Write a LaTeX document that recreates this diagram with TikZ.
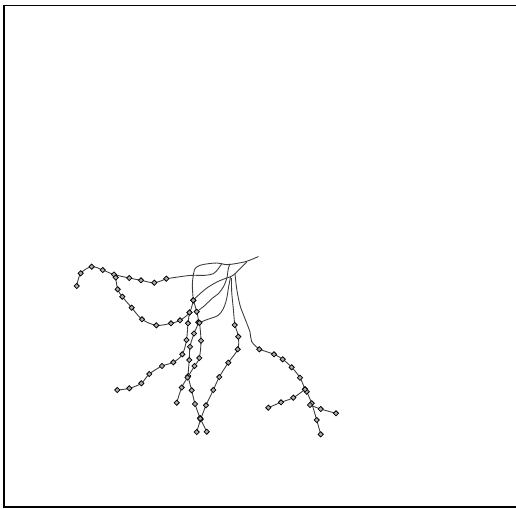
\documentclass[tikz,border=0pt]{standalone}
\usetikzlibrary{plotmarks}
\definecolor{twiggray}{RGB}{60,60,60}
\definecolor{knotfill}{RGB}{175,175,175}
\tikzset{
  frameline/.style={black, line width=0.8pt},
  twig/.style={twiggray, line width=0.5pt, smooth, tension=0.55},
  knots/.style={mark=square*, mark size=1.05pt,
                mark options={rotate=45, fill=knotfill, draw=black, line width=0.45pt}},
}

\begin{document}
\begin{tikzpicture}[x=0.02cm, y=-0.02cm]
  \useasboundingbox (0,0) rectangle (516,508);
  % frame
  \draw[frameline] (516,5.6) -- (4,5.6) -- (4,506.8) -- (516,506.8);
  % upper stems
  \draw[twig] plot coordinates {(193.3,275.3) (195,268.7) (200,265.3) (208.3,263.7) (216.7,263) (221.7,263.7) (226.7,264.7) (235,263.7) (246.7,261.3) (258.5,256.5)};
  \draw[twig] plot coordinates {(166.3,278.7) (185,276) (193.3,275.3) (205,275.3) (213.3,273.7) (218.3,268.7) (221.7,263.7)};
  \draw[twig] plot coordinates {(193.3,275.3) (192.3,285.3) (193.3,300.3)};
  \draw[twig] plot coordinates {(193.3,300.3) (200,293.7) (208.3,287) (218.3,281.3) (226.7,278) (231,276.5) (235,273.7) (240,268.7) (246.7,262)};
  \draw[twig] plot coordinates {(196.7,311.7) (205,305.3) (211.7,298.7) (218.3,293.7) (223.3,287) (226.7,278.7) (228.3,268.7) (230,263.7)};
  \draw[twig] plot coordinates {(199.5,322.8) (205,320.3) (211.7,318) (218.3,315.3) (223.3,308.7) (226.7,298.7) (228.3,288.7) (230.5,277)};
  \draw[twig] plot coordinates {(234.7,325) (233.3,308.7) (231.7,292) (231.5,278)};
  \draw[twig] plot coordinates {(259.3,349.3) (251.7,341.7) (250,332) (245,318.7) (240,305.3) (236.7,288.7) (235,273.7)};
  % left branches
  \draw[twig, knots] plot coordinates {(76.7,286) (80.7,273.3) (91.7,266.7) (102.7,270) (114,274.5) (129.3,278) (141,280.3) (154.3,282.7) (166.3,278.7)};
  \draw[twig, knots] plot coordinates {(115.7,277.5) (117.7,289.3) (122.3,296.7) (131.7,307.7) (142,319.3) (156.3,325.3) (171,323.3) (180,320.3) (189.5,312.5) (193.3,300.3)};
  \draw[twig, knots] plot coordinates {(117.3,390) (129.3,388.3) (141.3,383.3) (149.3,374) (162,366) (173.3,362.3) (182.3,354.3) (186.5,340) (188,323.3) (189.5,312.5)};
  % middle branches
  \draw[twig, knots] plot coordinates {(193.3,300.3) (196.7,311.7) (198.3,322.3) (194,333.5) (190,346.7) (189.3,360) (188.3,376) (191.7,390.3) (195,404) (200,418)};
  \draw[twig, knots] plot coordinates {(199.5,322.8) (201,340.7) (199.3,358) (194.5,366) (187.5,377.5) (181.7,387.5) (176.7,402.7)};
  \draw[twig, knots] plot coordinates {(234.7,325) (238.3,336.7) (237.7,349.3) (228.3,362.7) (219.3,377) (213.3,390) (206,405.3) (200.7,419.3) (196.7,432)};
  \draw[twig, knots] plot coordinates {(200.3,418.6) (206.7,431.7)};
  % right branches
  \draw[twig, knots] plot coordinates {(259.3,349.3) (274,354.3) (282.7,359.3) (291.7,367.3) (300,377.7) (305,389.3) (306.7,391.7) (311.7,403.3) (316.7,420) (320.7,434.3)};
  \draw[twig, knots] plot coordinates {(305,389.3) (293.3,397.7) (281,402.3) (268.3,407.7)};
  \draw[twig, knots] plot coordinates {(310,405) (320.7,409) (336,413.3)};
\end{tikzpicture}
\end{document}
